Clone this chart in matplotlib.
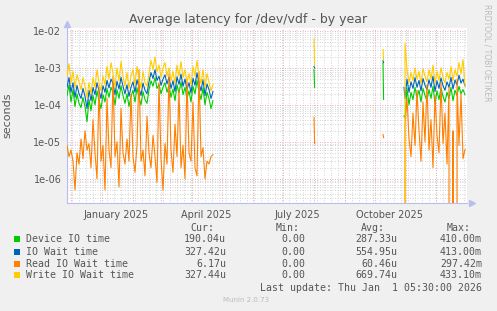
import numpy as np
import pandas as pd
import matplotlib
matplotlib.use('Agg')
import matplotlib.pyplot as plt
from matplotlib.patches import Rectangle
from matplotlib.ticker import FixedLocator, FuncFormatter, NullFormatter

# data in microseconds
start = pd.Timestamp('2024-11-27')
days_a = np.arange(0, 147, 2)
days_s1 = [247.0, 247.6]
days_s2 = [316.0, 316.6]
days_b = np.concatenate([[337], np.arange(338, 399, 2)])

dev_a = [180, 350, 120, 260, 90, 200, 110, 85, 160, 90, 35,
         140, 70, 180, 100, 240, 130, 80, 190, 120, 280,
         160, 300, 220, 100, 260, 150, 330, 180, 110, 200,
         90, 170, 250, 120, 290, 160, 100, 230, 140, 110,
         260, 450, 320, 550, 280, 360, 200, 300, 400, 220,
         340, 160, 270, 130, 350, 210, 420, 190, 300, 150,
         240, 120, 320, 200, 460, 230, 140, 290, 100, 220, 150, 80, 130]
iow_a = [300, 550, 220, 400, 160, 340, 200, 150, 280, 170, 80,
         250, 130, 300, 190, 400, 240, 150, 330, 220, 460,
         290, 500, 380, 190, 440, 270, 560, 320, 200, 350,
         170, 300, 420, 220, 480, 290, 180, 390, 250, 200,
         430, 750, 520, 900, 460, 600, 340, 500, 650, 370,
         560, 280, 450, 230, 580, 360, 680, 320, 500, 260,
         400, 210, 530, 340, 740, 390, 240, 480, 180, 370, 260, 150, 230]
read_a = [8, 4, 6, 3, 0.5, 5, 2.5, 12, 3.5, 20, 6,
          9, 2, 40, 5, 1, 300, 3, 8, 0.5, 150,
          6, 2, 600, 4, 10, 0.6, 80, 5, 2.5, 12,
          3, 200, 4, 1.5, 8, 900, 3, 6, 1.2, 50,
          5, 2, 15, 4, 0.8, 400, 3.5, 0.5, 9, 2.5,
          700, 6, 1.5, 30, 4, 250, 2, 8, 1, 500,
          5, 3, 120, 2, 1.2, 800, 4, 7, 1, 3, 2.5, 4, 4.5]
write_a = [600, 1300, 400, 800, 300, 650, 420, 260, 550, 320, 160,
           400, 200, 550, 300, 900, 400, 240, 600, 350, 1100,
           500, 1400, 700, 300, 1000, 450, 1500, 600, 320, 750,
           280, 600, 900, 360, 1100, 500, 280, 800, 400, 320,
           700, 1600, 900, 2000, 800, 1200, 550, 1000, 1400, 600,
           1000, 450, 800, 380, 1200, 600, 1500, 550, 900, 420,
           700, 340, 1100, 600, 1600, 650, 380, 900, 300, 700, 420, 240, 360]

dev_s1, iow_s1, read_s1, write_s1 = [900, 300], [1100, 1000], [46, 9], [6000, 1200]
dev_s2, iow_s2, read_s2, write_s2 = [1400, 140], [1600, 1400], [16, 13], [3200, 1600]

dev_b = [50, 45, 280, 100, 220, 140, 300, 160, 250, 120, 280,
         180, 130, 260, 150, 320, 110, 240, 140, 290, 170,
         120, 220, 150, 300, 130, 250, 180, 320, 200, 260, 190.04]
iow_b = [300, 150, 500, 220, 420, 280, 550, 300, 460, 240, 520,
         340, 260, 480, 300, 600, 230, 450, 280, 540, 330,
         250, 420, 300, 560, 270, 470, 350, 640, 390, 500, 327.42]
read_b = [0, 30, 150, 12, 4, 60, 8, 250, 20, 3, 120,
          10, 350, 6, 40, 2, 180, 15, 5, 400, 9,
          60, 2.5, 300, 0, 20, 0, 500, 8, 200, 3.5, 6.17]
write_b = [0, 4700, 900, 400, 750, 450, 1000, 500, 800, 380, 950,
           600, 420, 900, 500, 1200, 400, 800, 460, 1000, 550,
           400, 750, 500, 1100, 450, 900, 600, 1400, 700, 1700, 327.44]

names = ['Device IO time', 'IO Wait time', 'Read IO Wait time', 'Write IO Wait time']
colors = ['#00CC00', '#0066B3', '#FF8000', '#FFCC00']
cur = ['190.04u', '327.42u', '6.17u', '327.44u']
mins = ['0.00', '0.00', '0.00', '0.00']
avg = ['287.33u', '554.95u', '60.46u', '669.74u']
mx = ['410.00m', '413.00m', '297.42m', '433.10m']
month_labels = ['January 2025', 'April 2025', 'July 2025', 'October 2025']


def join(a, s1, s2, b):
    y = np.concatenate([a, [np.nan], s1, [np.nan], s2, [np.nan], b]) * 1e-6
    return y


xs = np.concatenate([days_a, [np.nan], days_s1, [np.nan], days_s2, [np.nan], days_b])
series = [join(dev_a, dev_s1, dev_s2, dev_b),
          join(iow_a, iow_s1, iow_s2, iow_b),
          join(read_a, read_s1, read_s2, read_b),
          join(write_a, write_s1, write_s2, write_b)]

W, H = 497, 311
fig = plt.figure(figsize=(W / 100, H / 100), dpi=100, facecolor='#F0F0F0')
ax = fig.add_axes([67 / W, 1 - 202.7 / H, 400 / W, 175 / H])
ax.set_facecolor('white')

for y, c in zip(series, colors):
    ax.plot(xs, y, color=c, lw=0.8, zorder=3)

ax.set_yscale('log', nonpositive='clip')
ax.set_ylim(2.26e-7, 1.23e-2)
ax.set_xlim(0, 400)

# grid: months red, weeks grey, decades red, sub-decades grey
mstarts = pd.date_range('2024-12-01', '2026-01-01', freq='MS')
mdays = [(m - start).days for m in mstarts]
wdays = np.arange(5, 400, 7)
for d in wdays:
    ax.axvline(d, color='#C8C8C8', lw=0.6, ls=(0, (1, 2)), zorder=1)
for d in mdays:
    ax.axvline(d, color='#E39A9A', lw=0.6, ls=(0, (1, 2)), zorder=2)
for k in range(-7, -1):
    for m in range(2, 10):
        ax.axhline(m * 10.0 ** k, color='#C8C8C8', lw=0.6, ls=(0, (1, 2)), zorder=1)
for k in range(-6, -1):
    ax.axhline(10.0 ** k, color='#E39A9A', lw=0.6, ls=(0, (1, 2)), zorder=2)

ax.yaxis.set_major_locator(FixedLocator([1e-6, 1e-5, 1e-4, 1e-3, 1e-2]))
ax.yaxis.set_major_formatter(FuncFormatter(lambda v, p: '%.0e' % v))
ax.yaxis.set_minor_formatter(NullFormatter())
ax.yaxis.set_minor_locator(FixedLocator([]))
lab_days = [(pd.Timestamp(s) - start).days for s in ['2025-01-15', '2025-04-15', '2025-07-15', '2025-10-15']]
ax.xaxis.set_major_locator(FixedLocator(lab_days))
ax.set_xticklabels(month_labels)
ax.tick_params(axis='both', length=0, labelsize=7, labelcolor='#555555', pad=4)
ax.tick_params(axis='x', pad=5)

for s in ['top', 'right']:
    ax.spines[s].set_visible(False)
for s in ['left', 'bottom']:
    ax.spines[s].set_color('#B8BEF0')
    ax.spines[s].set_linewidth(0.8)
ax.plot([1.012], [0], marker='>', ms=4, color='#B8BEF0', transform=ax.transAxes, clip_on=False)
ax.plot([0], [1.02], marker='^', ms=4, color='#B8BEF0', transform=ax.transAxes, clip_on=False)

ax.set_ylabel('seconds', fontsize=8, color='#555555')
ax.yaxis.set_label_coords(-0.1375, 0.5)
fig.text(248 / W, 1 - 19 / H, 'Average latency for /dev/vdf - by year', ha='center', va='center',
         fontsize=9, color='#555555')
fig.text(487 / W, 1 - 53 / H, 'RRDTOOL / TOBI OETIKER', rotation=270, ha='center', va='center',
         fontsize=5.5, color='#BBBBBB')

mono = dict(family='DejaVu Sans Mono', fontsize=7.1, color='#555555', va='center')
hy = 1 - 227.7 / H
fig.text(190 / W, hy, 'Cur:', **mono)
fig.text(276 / W, hy, 'Min:', **mono)
fig.text(361 / W, hy, 'Avg:', **mono)
fig.text(447 / W, hy, 'Max:', **mono)
rows = [239.3, 251.7, 263.7, 275.3]
for i in range(4):
    yy = 1 - rows[i] / H
    fig.patches.append(Rectangle((14 / W, yy - 3 / H), 6 / W, 6 / H, transform=fig.transFigure,
                                 facecolor=colors[i], edgecolor='none'))
    fig.text(26 / W, yy, names[i], ha='left', **mono)
    fig.text(226 / W, yy, cur[i], ha='right', **mono)
    fig.text(305 / W, yy, mins[i], ha='right', **mono)
    fig.text(397 / W, yy, avg[i], ha='right', **mono)
    fig.text(482 / W, yy, mx[i], ha='right', **mono)
fig.text(482 / W, 1 - 287.7 / H, 'Last update: Thu Jan  1 05:30:00 2026', ha='right', **mono)
fig.text(246 / W, 1 - 300 / H, 'Munin 2.0.73', ha='center', va='center', fontsize=5, color='#BBBBBB')

fig.savefig('out.png', dpi=100, facecolor=fig.get_facecolor())
